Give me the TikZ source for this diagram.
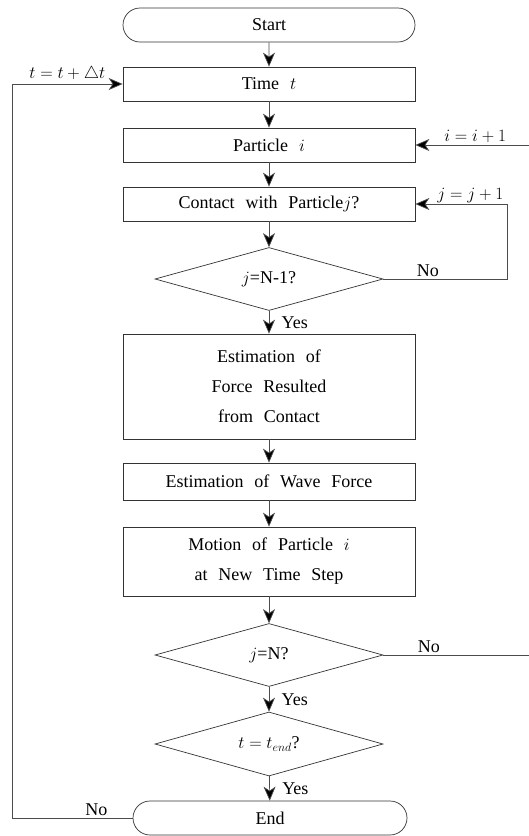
\documentclass[tikz,border=0pt]{standalone}
\usepackage{fontspec}
\setmainfont{Liberation Serif}
\newfontfamily\flowserif{Liberation Serif}
\usetikzlibrary{shapes.geometric,shapes.misc,arrows.meta}
\newcommand\flowfont{\flowserif\fontsize{18}{30}\selectfont\spaceskip 0.6em\relax}
\begin{document}
\begin{tikzpicture}[x=1pt,y=-1pt,
  every node/.style={font=\flowfont},
  box/.style={draw=black!80, line width=0.7pt, minimum width=292pt, minimum height=34pt, inner sep=0pt, align=center},
  term/.style={box, rounded rectangle},
  cond/.style={diamond, aspect=3.6, draw=black!80, line width=0.7pt, minimum width=228pt, minimum height=63pt, inner sep=0pt},
  conn/.style={draw=black!70, line width=0.7pt},
  arr/.style={conn, -{Stealth[length=14pt,width=12pt,inset=4pt,fill=black]}},
  yes/.style={right, xshift=9pt},
  lab/.style={above, inner sep=2pt}]
\useasboundingbox (0,0) rectangle (528,836);
\node[term] (start) at (269,25){Start};
\node[box] (time) at (269,84){Time $t$};
\node[box] (part) at (269,145){Particle $i$};
\node[box] (cont) at (269,204){Contact with Particle$j$?};
\node[cond] (dec1) at (269,279){$j$=N-1?};
\node[box, minimum height=105pt] (est) at (269,386.5){Estimation of\\Force Resulted\\from Contact};
\node[box, minimum height=37pt] (wave) at (269,481.5){Estimation of Wave Force};
\node[box, minimum height=69pt] (mot) at (269,561.5){Motion of Particle $i$\\at New Time Step};
\node[cond] (dec2) at (269,655){$j$=N?};
\node[cond, minimum height=64pt] (dec3) at (269,744){$t=t_{end}$?};
\node[term, minimum width=274pt] (stop) at (270,818){End};
\coordinate (lft) at (12,0);
\coordinate (rj) at (507,0);
\coordinate (ri) at (535,0);
\draw[arr](start) -- (time);
\draw[arr](time) -- (part);
\draw[arr](part) -- (cont);
\draw[arr](cont) -- (dec1);
\draw[arr](dec1) -- node[yes]{Yes} (est);
\draw[arr](est) -- (wave);
\draw[arr](wave) -- (mot);
\draw[arr](mot) -- (dec2);
\draw[arr](dec2) -- node[yes]{Yes} (dec3);
\draw[arr](dec3) -- node[yes]{Yes} (stop);
% loops
\draw[arr](dec1.east) -- node[lab, pos=0.36]{No} (dec1.east -| rj) |- (cont.east) node[lab, inner sep=1pt, pos=0.7]{$j=j+1$};
\draw[arr](dec2.east) -- node[lab, pos=0.3]{No} (dec2.east -| ri) |- (part.east) node[lab, pos=0.75]{$i=i+1$};
\draw[arr](stop.west) -- node[lab, pos=0.3]{No} (stop.west -| lft) |- (time.west) node[lab, pos=0.75]{$t=t+\triangle t$};
\end{tikzpicture}
\end{document}
